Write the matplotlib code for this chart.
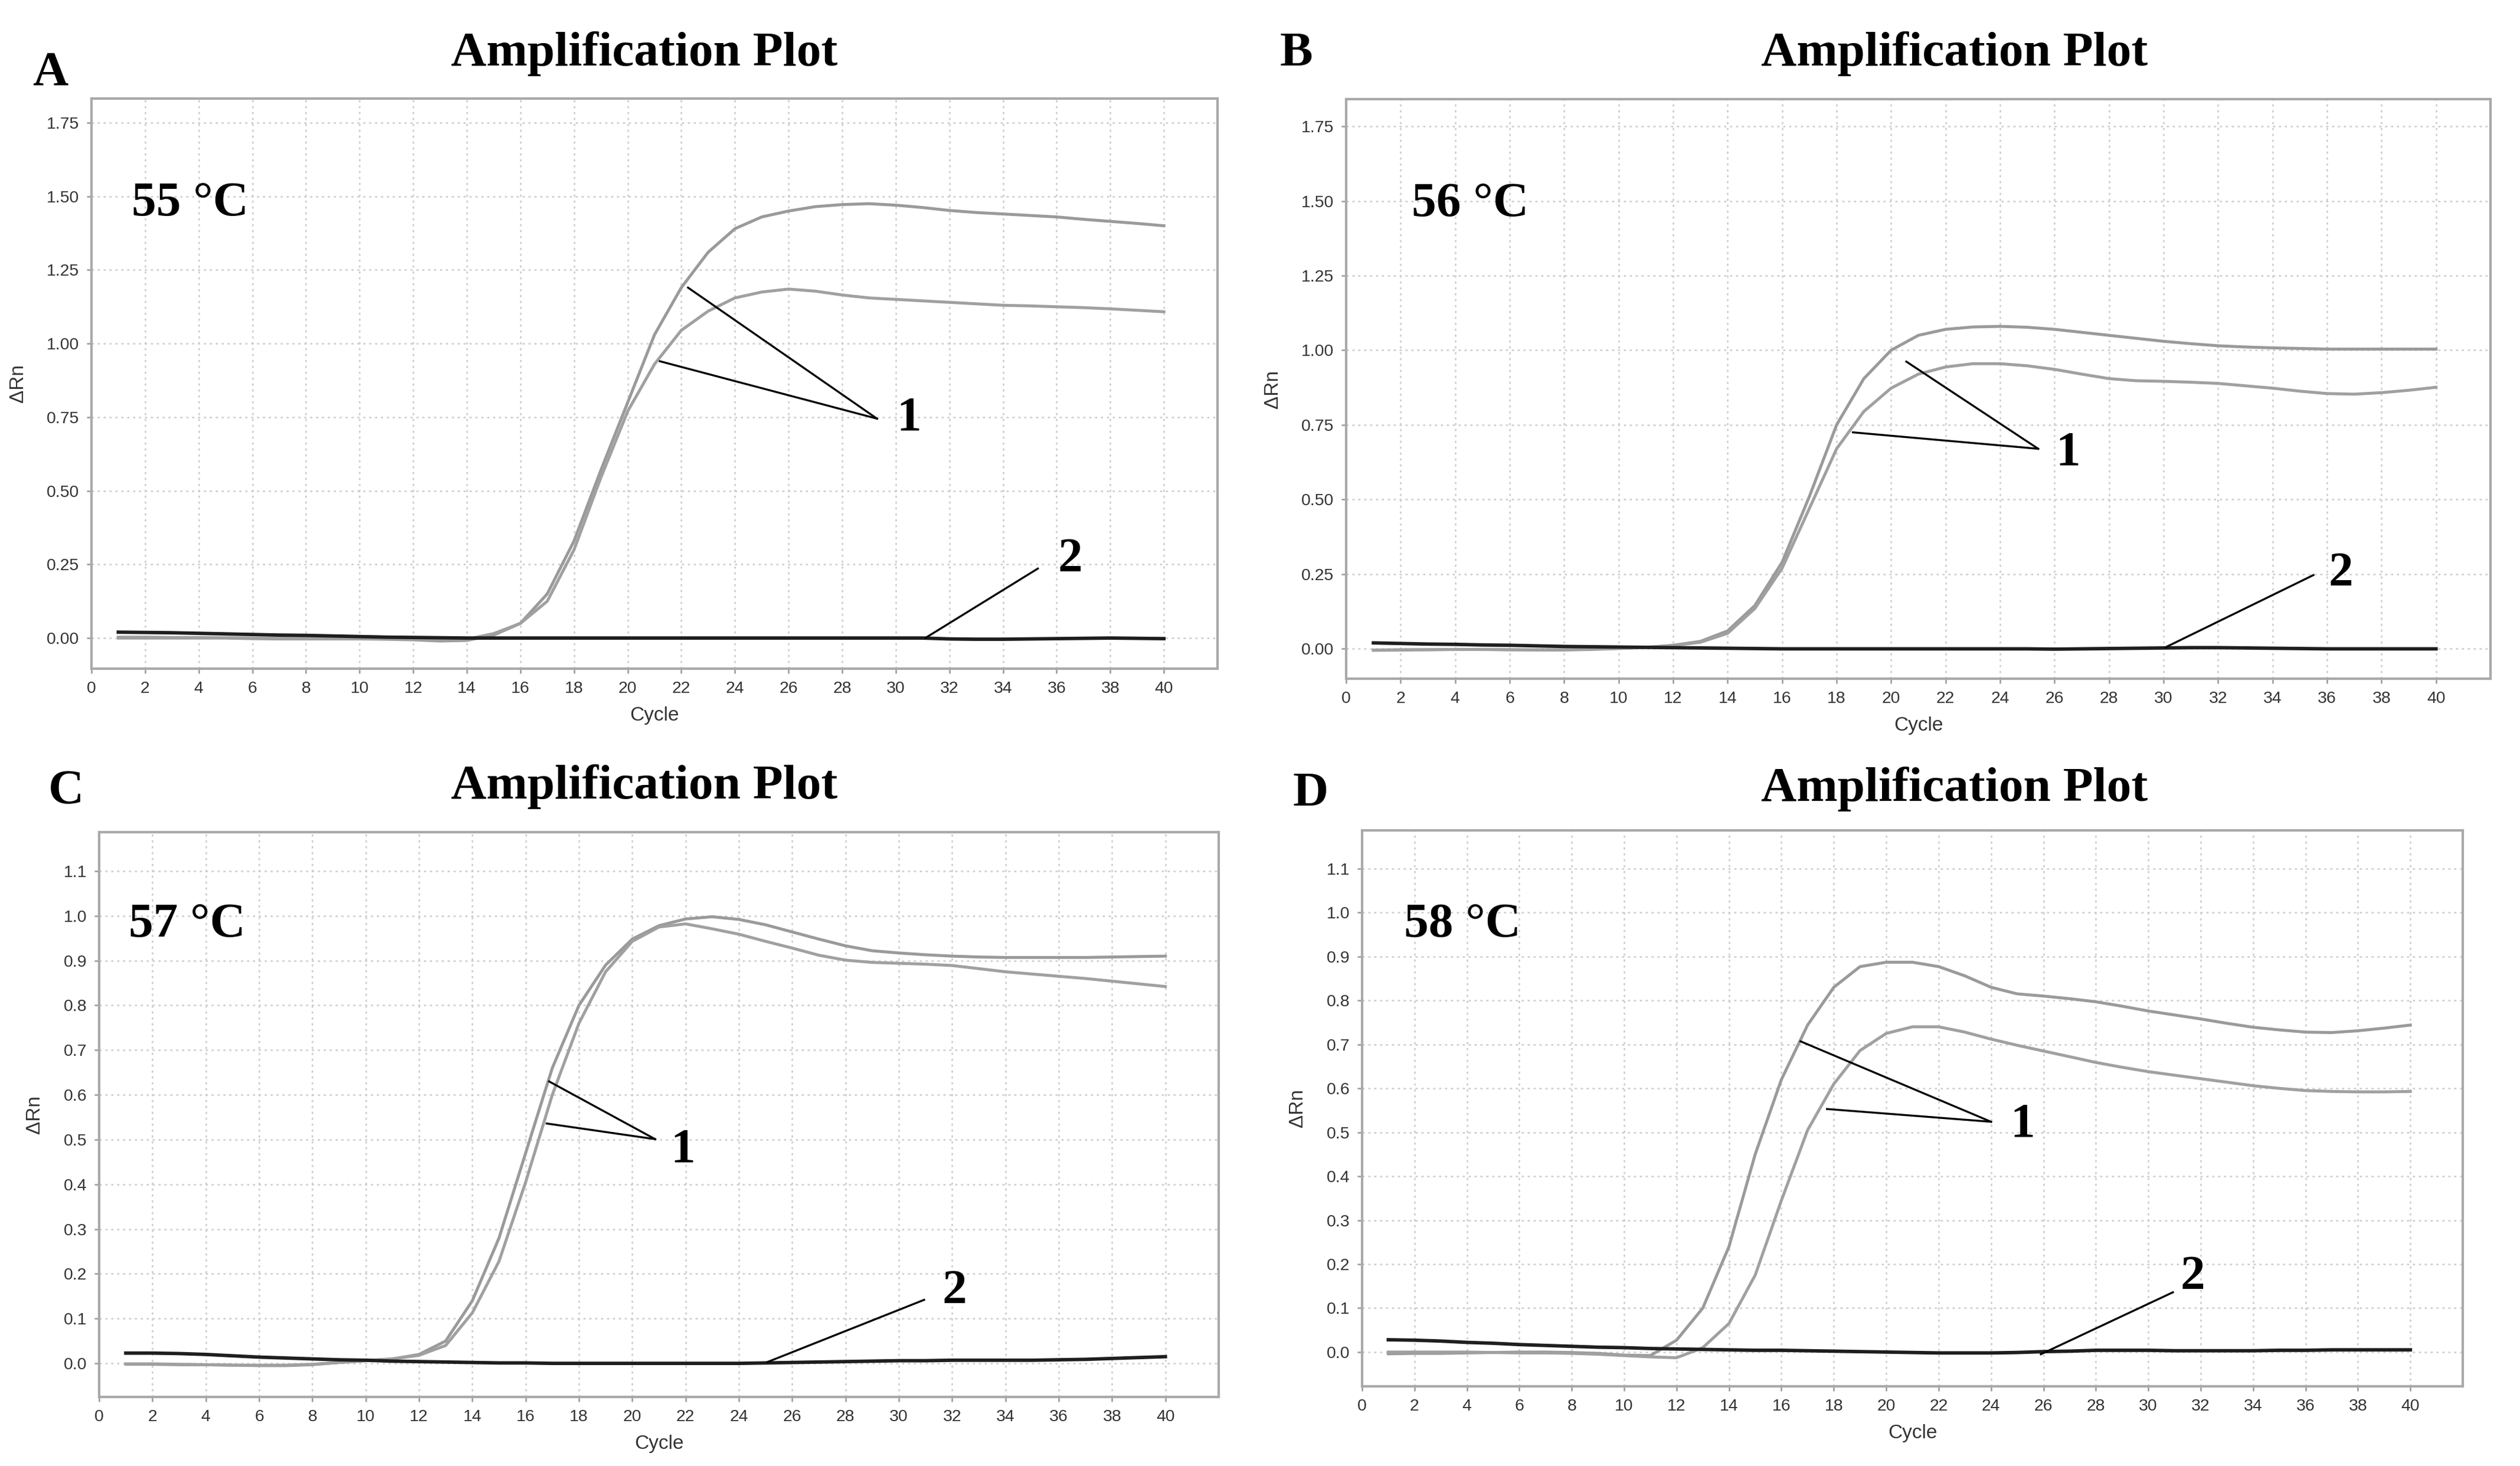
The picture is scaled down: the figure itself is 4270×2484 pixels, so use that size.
import matplotlib
matplotlib.use("Agg")
import matplotlib.pyplot as plt
import numpy as np

# ---- data (delta Rn per cycle) ----
cycles = list(range(1, 41))

# A, 55 C
upper_A = [0.000, 0.000, 0.000, 0.000, 0.000, -0.002, -0.003, -0.003, -0.003, -0.003,
           -0.004, -0.006, -0.010, -0.008, 0.010, 0.050, 0.150, 0.330, 0.570, 0.800,
           1.030, 1.190, 1.310, 1.390, 1.430, 1.450, 1.465, 1.472, 1.475, 1.470,
           1.462, 1.452, 1.445, 1.440, 1.435, 1.430, 1.422, 1.415, 1.408, 1.400]
lower_A = [0.003, 0.003, 0.002, 0.002, 0.001, 0.000, -0.001, -0.001, -0.002, -0.002,
           -0.003, -0.004, -0.006, -0.004, 0.015, 0.050, 0.125, 0.300, 0.545, 0.770,
           0.930, 1.045, 1.110, 1.155, 1.175, 1.185, 1.178, 1.165, 1.155, 1.150,
           1.145, 1.140, 1.135, 1.130, 1.128, 1.125, 1.122, 1.118, 1.113, 1.108]
ntc_A = [0.020, 0.019, 0.018, 0.016, 0.014, 0.012, 0.010, 0.009, 0.007, 0.005,
         0.003, 0.002, 0.001, 0.000, 0.000, 0.000, 0.000, 0.000, 0.000, 0.000,
         0.000, 0.000, 0.000, 0.000, 0.000, 0.000, 0.000, 0.000, 0.000, 0.000,
         0.000, -0.003, -0.004, -0.004, -0.003, -0.002, -0.001, 0.000, -0.001, -0.002]

# B, 56 C
upper_B = [-0.005, -0.004, -0.003, -0.002, -0.002, -0.003, -0.004, -0.004, -0.002, 0.001,
           0.005, 0.012, 0.025, 0.060, 0.145, 0.290, 0.510, 0.750, 0.905, 1.000,
           1.050, 1.070, 1.078, 1.080, 1.077, 1.070, 1.060, 1.050, 1.040, 1.030,
           1.022, 1.015, 1.011, 1.008, 1.006, 1.004, 1.004, 1.004, 1.004, 1.004]
lower_B = [-0.004, -0.003, -0.003, -0.002, -0.002, -0.003, -0.003, -0.003, -0.001, 0.002,
           0.005, 0.011, 0.022, 0.052, 0.135, 0.270, 0.470, 0.670, 0.795, 0.873,
           0.920, 0.944, 0.955, 0.955, 0.948, 0.936, 0.920, 0.905, 0.898, 0.896,
           0.893, 0.889, 0.881, 0.873, 0.863, 0.855, 0.853, 0.858, 0.866, 0.876]
ntc_B = [0.020, 0.018, 0.016, 0.015, 0.013, 0.012, 0.010, 0.008, 0.007, 0.006,
         0.005, 0.004, 0.003, 0.002, 0.001, 0.000, 0.000, 0.000, 0.000, 0.000,
         0.000, 0.000, 0.000, 0.000, 0.000, -0.001, 0.000, 0.001, 0.002, 0.003,
         0.004, 0.004, 0.003, 0.002, 0.001, 0.000, 0.000, 0.000, 0.000, 0.000]

# C, 57 C
upper_C = [-0.002, -0.002, -0.003, -0.003, -0.004, -0.005, -0.005, -0.003, 0.002, 0.006,
           0.010, 0.020, 0.050, 0.140, 0.280, 0.470, 0.660, 0.800, 0.890, 0.948,
           0.978, 0.993, 0.998, 0.992, 0.980, 0.964, 0.948, 0.933, 0.922, 0.917,
           0.913, 0.910, 0.908, 0.907, 0.907, 0.907, 0.907, 0.908, 0.909, 0.910]
lower_C = [-0.001, -0.001, -0.002, -0.003, -0.004, -0.004, -0.004, -0.002, 0.002, 0.006,
           0.010, 0.018, 0.040, 0.113, 0.228, 0.405, 0.600, 0.760, 0.875, 0.943,
           0.975, 0.982, 0.971, 0.959, 0.943, 0.928, 0.912, 0.901, 0.896, 0.894,
           0.892, 0.889, 0.882, 0.875, 0.870, 0.865, 0.860, 0.854, 0.848, 0.842]
ntc_C = [0.023, 0.023, 0.022, 0.020, 0.017, 0.014, 0.012, 0.010, 0.008, 0.007,
         0.005, 0.004, 0.003, 0.002, 0.001, 0.001, 0.000, 0.000, 0.000, 0.000,
         0.000, 0.000, 0.000, 0.000, 0.001, 0.002, 0.003, 0.004, 0.005, 0.006,
         0.006, 0.007, 0.007, 0.007, 0.007, 0.008, 0.009, 0.011, 0.013, 0.015]

# D, 58 C
upper_D = [-0.004, -0.003, -0.003, -0.002, -0.001, 0.000, 0.000, -0.001, -0.003, -0.007,
           -0.008, 0.027, 0.100, 0.240, 0.450, 0.620, 0.744, 0.830, 0.877, 0.887,
           0.887, 0.877, 0.856, 0.830, 0.815, 0.810, 0.804, 0.797, 0.787, 0.776,
           0.767, 0.758, 0.748, 0.739, 0.733, 0.728, 0.727, 0.731, 0.737, 0.744]
lower_D = [0.000, 0.000, 0.000, 0.000, -0.001, -0.002, -0.002, -0.003, -0.005, -0.008,
           -0.011, -0.013, 0.010, 0.065, 0.175, 0.345, 0.505, 0.610, 0.686, 0.725,
           0.740, 0.740, 0.728, 0.712, 0.698, 0.685, 0.672, 0.659, 0.648, 0.638,
           0.630, 0.622, 0.614, 0.606, 0.600, 0.595, 0.593, 0.592, 0.592, 0.593]
ntc_D = [0.028, 0.027, 0.025, 0.022, 0.020, 0.017, 0.015, 0.013, 0.011, 0.010,
         0.008, 0.007, 0.006, 0.005, 0.004, 0.004, 0.003, 0.002, 0.001, 0.000,
         -0.001, -0.002, -0.002, -0.002, -0.001, 0.001, 0.002, 0.004, 0.004, 0.004,
         0.003, 0.003, 0.003, 0.003, 0.004, 0.004, 0.005, 0.005, 0.005, 0.005]

panel_letters = ["A", "B", "C", "D"]
temperatures = ["55 °C", "56 °C", "57 °C", "58 °C"]
title_text = "Amplification Plot"

# ---- layout (pixels of the 4270x2484 picture) ----
W, H = 4270, 2484
serif = "Liberation Serif"
sans = "Liberation Sans"

panels = [
    dict(box=(155, 167, 2063, 1133), ylim=(-0.104, 1.832), yticks=np.arange(0, 1.76, 0.25), fmt="%.2f",
         upper=upper_A, lower=lower_A, ntc=ntc_A,
         title=(1092, 111), letter=(55, 143), temp=(1.5, 1.436),
         lab1=(30.5, 0.745), from1=(29.3, 0.745), to1=[(22.25, 1.19), (21.2, 0.94)],
         lab2=(36.5, 0.265), from2=(35.3, 0.236), to2=(31.1, 0.0)),
    dict(box=(2281, 168, 4220, 1150), ylim=(-0.10, 1.841), yticks=np.arange(0, 1.76, 0.25), fmt="%.2f",
         upper=upper_B, lower=lower_B, ntc=ntc_B,
         title=(3312, 111), letter=(2169, 111), temp=(2.4, 1.45),
         lab1=(26.5, 0.655), from1=(25.4, 0.67), to1=[(20.56, 0.962), (18.6, 0.725)],
         lab2=(36.5, 0.25), from2=(35.5, 0.247), to2=(30.07, 0.005)),
    dict(box=(168, 1410, 2065, 2367), ylim=(-0.075, 1.187), yticks=np.arange(0, 1.15, 0.1), fmt="%.1f",
         upper=upper_C, lower=lower_C, ntc=ntc_C,
         title=(1092, 1353), letter=(82, 1361), temp=(1.1, 0.954),
         lab1=(21.9, 0.476), from1=(20.86, 0.501), to1=[(16.88, 0.63), (16.79, 0.536)],
         lab2=(32.1, 0.16), from2=(30.95, 0.142), to2=(25.07, 0.003)),
    dict(box=(2308, 1407, 4173, 2349), ylim=(-0.078, 1.187), yticks=np.arange(0, 1.15, 0.1), fmt="%.1f",
         upper=upper_D, lower=lower_D, ntc=ntc_D,
         title=(3312, 1357), letter=(2190, 1365), temp=(1.6, 0.945),
         lab1=(25.2, 0.517), from1=(24.0, 0.524), to1=[(16.73, 0.707), (17.74, 0.553)],
         lab2=(31.7, 0.17), from2=(30.94, 0.136), to2=(25.9, -0.005)),
]

fig = plt.figure(figsize=(W / 300, H / 300), dpi=300)
fig.patch.set_facecolor("white")

for i, p in enumerate(panels):
    l, t, r, b = p["box"]
    ax = fig.add_axes([l / W, 1 - b / H, (r - l) / W, (b - t) / H])

    ax.plot(cycles, p["upper"], color="#9a9a9a", lw=1.2, zorder=3)
    ax.plot(cycles, p["lower"], color="#a0a0a0", lw=1.2, zorder=3)
    ax.plot(cycles, p["ntc"], color="#1e1e1e", lw=1.4, zorder=4)

    ax.set_xlim(0, 42)
    ax.set_ylim(*p["ylim"])
    ax.set_xticks(range(0, 41, 2))
    ax.set_yticks(p["yticks"])
    ax.yaxis.set_major_formatter(matplotlib.ticker.FormatStrFormatter(p["fmt"]))
    ax.grid(True, color="#cccccc", lw=0.6, linestyle=(0, (1.5, 2.5)))
    ax.set_axisbelow(True)
    for s in ax.spines.values():
        s.set_color("#a9a9a9")
        s.set_linewidth(1.0)
    ax.tick_params(direction="out", length=2, width=0.6, color="#999999",
                   labelsize=6.8, labelcolor="#333333", pad=3)
    for lab in ax.get_xticklabels() + ax.get_yticklabels():
        lab.set_fontfamily(sans)
    ax.set_xlabel("Cycle", fontsize=8, family=sans, color="#333333", labelpad=4)
    ax.set_ylabel("ΔRn", fontsize=8, family=sans, color="#333333", labelpad=8)

    # temperature label
    ax.text(p["temp"][0], p["temp"][1], temperatures[i], fontsize=20, family=serif,
            fontweight="bold", ha="left", va="baseline")

    # pointer lines and numbers
    for tx, ty in p["to1"]:
        ax.plot([p["from1"][0], tx], [p["from1"][1], ty], color="black", lw=0.8, zorder=5)
    ax.text(p["lab1"][0], p["lab1"][1], "1", fontsize=20, family=serif, fontweight="bold",
            ha="center", va="center")
    ax.plot([p["from2"][0], p["to2"][0]], [p["from2"][1], p["to2"][1]], color="black", lw=0.8, zorder=5)
    ax.text(p["lab2"][0], p["lab2"][1], "2", fontsize=20, family=serif, fontweight="bold",
            ha="center", va="center")

    # title and panel letter
    fig.text(p["title"][0] / W, 1 - p["title"][1] / H, title_text, fontsize=20, family=serif,
             fontweight="bold", ha="center", va="baseline")
    fig.text(p["letter"][0] / W, 1 - p["letter"][1] / H, panel_letters[i], fontsize=20, family=serif,
             fontweight="bold", ha="left", va="baseline")

fig.savefig("out.png", dpi=300, facecolor="white")
